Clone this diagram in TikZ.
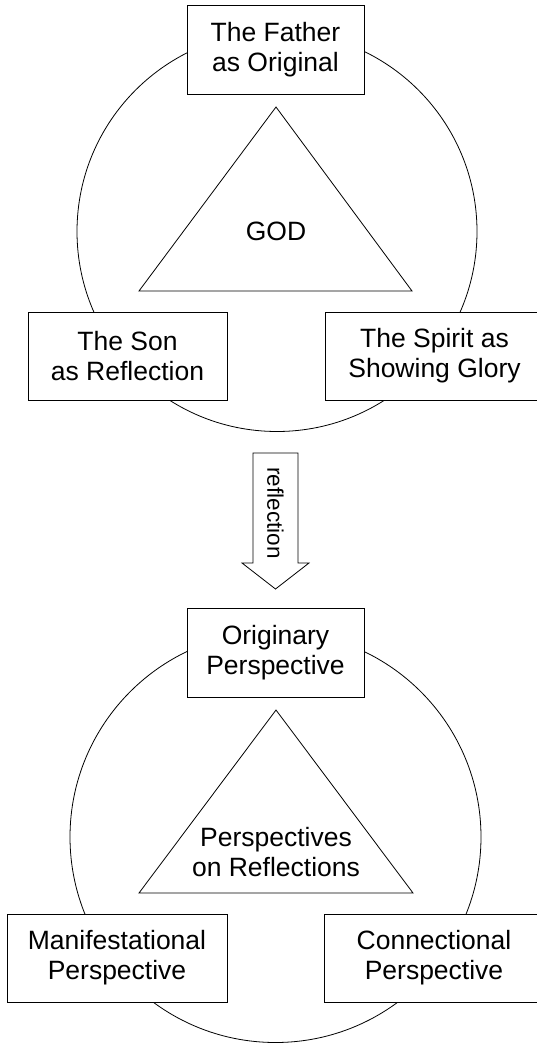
\documentclass[tikz,border=0pt]{standalone}
\usepackage{fontspec}
\setmainfont{Liberation Sans}
\begin{document}
\begin{tikzpicture}[x=1pt,y=-1pt,line width=0.8pt,
  box/.style={draw, fill=white, inner sep=0pt, align=center,
    font=\fontsize{26.5}{30}\selectfont},
  lbl/.style={inner sep=0pt, align=center, font=\fontsize{26.5}{30}\selectfont},
  small/.style={inner sep=0pt, font=\fontsize{22.5}{27}\selectfont}]
\useasboundingbox (0,0) rectangle (537,1043);
\clip (0,0) rectangle (537,1043);

% ---------- upper diagram ----------
\draw (277,231.5) circle[radius=200];
\draw (276,107) -- (412,291) -- (139,291) -- cycle;
\node[lbl] (god) at (276,231) {GOD};

\node[box, minimum width=177pt, minimum height=89pt] (father) at (275.5,49.5) {The Father\\as Original};
\node[box, minimum width=199pt, minimum height=88pt] (son) at (127.5,356) {The Son\\as Reflection};
\node[box, minimum width=219pt, minimum height=88pt] (spirit) at (434.5,356) {The Spirit as\\Showing Glory};

% ---------- arrow ----------
\draw (253,453) -- (298,453) -- (298,563) -- (309,563) -- (275.5,589)
      -- (242,563) -- (253,563) -- cycle;
\node[small, rotate=-90] (refl) at (275.5,513) {reflection};

% ---------- lower diagram ----------
\draw (275.5,837) circle[radius=205.5];
\draw (276,710) -- (413,893) -- (139,893) -- cycle;
\node[lbl] (persp) at (276,852) {Perspectives\\on Reflections};

\node[box, minimum width=177pt, minimum height=89pt] (orig) at (275.5,652.5) {Originary\\Perspective};
\node[box, minimum width=220pt, minimum height=88pt] (manif) at (117,958) {Manifestational\\Perspective};
\node[box, minimum width=220pt, minimum height=88pt] (conn) at (434,958) {Connectional\\Perspective};
\end{tikzpicture}
\end{document}
